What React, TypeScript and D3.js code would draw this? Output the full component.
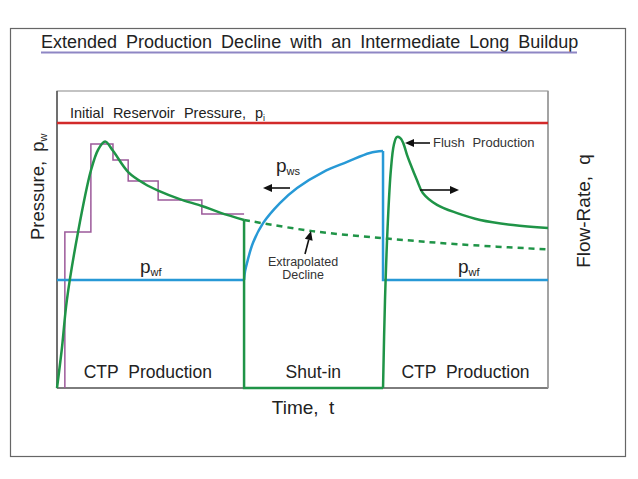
import React from "react";
import * as d3 from "d3";

// ---- data (time and value in arbitrary 0–100 units) ----
const timeDomain: [number, number] = [0, 100];
const valueDomain: [number, number] = [0, 100];
const initialPressure = 100;

const rateFirstPeriod: [number, number][] = [
  [0, 0], [1, 15], [2, 33], [4.3, 59], [6.9, 82], [8.4, 90], [9.8, 93],
  [11.4, 89.5], [14.5, 81.5], [17.9, 77], [20.6, 74.5], [25, 71.3],
  [29.5, 68.7], [33.2, 66.2], [38.1, 63.4],
];
const rateShutIn: [number, number][] = [
  [38.1, 63.4], [38.1, 0], [66.4, 0],
];
const rateSecondPeriod: [number, number][] = [
  [66.4, 0], [66.8, 33], [67.4, 63.4], [68.0, 82.3], [68.6, 91.7], [69.2, 94.7],
  [69.9, 94.3], [70.5, 92.5], [71.3, 87.9], [71.9, 84.9], [73.3, 78.5],
  [74.5, 73.6], [77.4, 69.1], [81.5, 66], [86.2, 63.4], [92.9, 61.5], [100, 60.4],
];
const extrapolatedDecline: [number, number][] = [
  [38.1, 63.4], [52, 59.2], [67.2, 56.4], [82, 54.2], [100, 52.3],
];
const stepRates: [number, number][] = [
  [1.6, 0], [1.6, 58.9], [6.9, 92.1], [11.4, 86], [14.5, 78.1],
  [20.6, 70.9], [29.5, 65.7], [38.1, 65.7],
];
const flowingPressureLeft: [number, number][] = [
  [0, 40.8], [38.1, 40.8],
];
const buildupPressure: [number, number][] = [
  [38.1, 40.8], [38.3, 44], [38.7, 47.2], [39.9, 54.7], [42.0, 62.3], [45.4, 69.8],
  [48.9, 75.5], [54.2, 81.5], [59.1, 85.3], [63.7, 88.7], [66.4, 89.4],
];
const flowingPressureRight: [number, number][] = [
  [66.4, 89.4], [66.4, 40.8], [100, 40.8],
];

const titleText = "Extended Production Decline with an Intermediate Long Buildup";
const periodLabels = [
  { t: 18.5, text: "CTP Production" },
  { t: 52.2, text: "Shut-in" },
  { t: 83.2, text: "CTP Production" },
];

const GREEN = "#1f9447";
const BLUE = "#2799d6";
const RED = "#d22a2a";
const PURPLE = "#9c5a9a";
const TEXT = "#222";
const FONT = "'Liberation Sans', Arial, sans-serif";

export default function App() {
  const W = 638, H = 479;
  const plot = { left: 57, right: 548, top: 91, bottom: 388 };
  const x = d3.scaleLinear().domain(timeDomain).range([plot.left, plot.right]);
  const y = d3.scaleLinear().domain(valueDomain).range([plot.bottom, 123]);

  const smooth = d3.line<[number, number]>().x(d => x(d[0])).y(d => y(d[1])).curve(d3.curveCatmullRom.alpha(0.5));
  const lin = d3.line<[number, number]>().x(d => x(d[0])).y(d => y(d[1]));
  const step = d3.line<[number, number]>().x(d => x(d[0])).y(d => y(d[1])).curve(d3.curveStepAfter);

  const arrow = (x1: number, y1: number, x2: number, y2: number) => {
    const ang = Math.atan2(y2 - y1, x2 - x1);
    const L = 9, Wd = 4;
    const bx = x2 - L * Math.cos(ang), by = y2 - L * Math.sin(ang);
    const p1 = [bx + Wd * Math.sin(ang), by - Wd * Math.cos(ang)];
    const p2 = [bx - Wd * Math.sin(ang), by + Wd * Math.cos(ang)];
    return (
      <g>
        <line x1={x1} y1={y1} x2={bx} y2={by} stroke="#111" strokeWidth={1.6} />
        <polygon points={`${x2},${y2} ${p1[0]},${p1[1]} ${p2[0]},${p2[1]}`} fill="#111" />
      </g>
    );
  };

  return (
    <svg width={W} height={H} style={{ position: "absolute", left: 0, top: 0, background: "#fff" }} fontFamily={FONT}>
      <rect x={0} y={0} width={W} height={H} fill="#fff" />
      {/* outer frame */}
      <rect x={10.5} y={28.5} width={615} height={428} fill="none" stroke="#666" strokeWidth={1.2} />
      {/* title */}
      <text x={41} y={48} fontSize={18} fill={TEXT} wordSpacing={4}>{titleText}</text>
      <line x1={41} x2={577} y1={52.5} y2={52.5} stroke="#8e86c4" strokeWidth={2} />

      {/* plot box */}
      <rect x={plot.left} y={plot.top} width={plot.right - plot.left} height={plot.bottom - plot.top} fill="none" stroke="#888" strokeWidth={1} />
      <line x1={plot.left} x2={plot.left} y1={plot.top} y2={plot.bottom} stroke="#555" strokeWidth={1.5} />
      <line x1={plot.left} x2={plot.right} y1={plot.bottom} y2={plot.bottom} stroke="#666" strokeWidth={1.5} />
      <line x1={plot.right} x2={plot.right} y1={plot.top} y2={plot.bottom} stroke="#999" strokeWidth={1.5} />

      {/* initial pressure */}
      <line x1={x(0)} x2={x(100)} y1={y(initialPressure)} y2={y(initialPressure)} stroke={RED} strokeWidth={2.5} />
      <text x={70} y={118} fontSize={14.5} fill={TEXT} wordSpacing={5}>
        Initial Reservoir Pressure, p<tspan fontSize={9} dy={3}>i</tspan>
      </text>

      {/* step rates */}
      <path d={step(stepRates) || ""} fill="none" stroke={PURPLE} strokeWidth={1.5} />

      {/* pressures */}
      <path d={lin(flowingPressureLeft) || ""} fill="none" stroke={BLUE} strokeWidth={2.5} />
      <path d={smooth(buildupPressure) || ""} fill="none" stroke={BLUE} strokeWidth={2.5} />
      <path d={lin(flowingPressureRight) || ""} fill="none" stroke={BLUE} strokeWidth={2.5} />

      {/* rates */}
      <path d={smooth(extrapolatedDecline) || ""} fill="none" stroke={GREEN} strokeWidth={2.5} strokeDasharray="6,5" />
      <path d={smooth(rateFirstPeriod) || ""} fill="none" stroke={GREEN} strokeWidth={2.5} />
      <path d={lin(rateShutIn) || ""} fill="none" stroke={GREEN} strokeWidth={2.5} />
      <path d={smooth(rateSecondPeriod) || ""} fill="none" stroke={GREEN} strokeWidth={2.5} />

      {/* labels */}
      <text x={140} y={273} fontSize={19} fill={TEXT}>p<tspan fontSize={11} dy={3}>wf</tspan></text>
      <text x={458} y={273} fontSize={19} fill={TEXT}>p<tspan fontSize={11} dy={3}>wf</tspan></text>
      <text x={276} y={172} fontSize={19} fill={TEXT}>p<tspan fontSize={11} dy={3}>ws</tspan></text>
      {arrow(290, 188, 263, 188)}

      <text x={303} y={266} fontSize={12.5} fill="#333" textAnchor="middle">Extrapolated</text>
      <text x={303} y={279} fontSize={12.5} fill="#333" textAnchor="middle">Decline</text>
      {arrow(305, 254, 311, 231)}

      {arrow(430, 143, 405, 143)}
      <text x={433} y={147} fontSize={13} fill="#333" wordSpacing={4}>Flush Production</text>
      {arrow(420, 190, 459, 190)}

      {periodLabels.map((p, i) => (
        <text key={i} x={x(p.t)} y={378} fontSize={17.5} fill={TEXT} textAnchor="middle" wordSpacing={5}>{p.text}</text>
      ))}

      <text x={303} y={414} fontSize={19} fill={TEXT} textAnchor="middle" wordSpacing={5}>Time, t</text>

      <text transform="translate(44,240) rotate(-90)" fontSize={18.5} fill={TEXT} wordSpacing={4}>
        Pressure, p<tspan fontSize={11} dy={3}>w</tspan>
      </text>
      <text transform="translate(590,211) rotate(-90)" fontSize={19} fill={TEXT} textAnchor="middle" wordSpacing={6}>Flow-Rate, q</text>
    </svg>
  );
}
